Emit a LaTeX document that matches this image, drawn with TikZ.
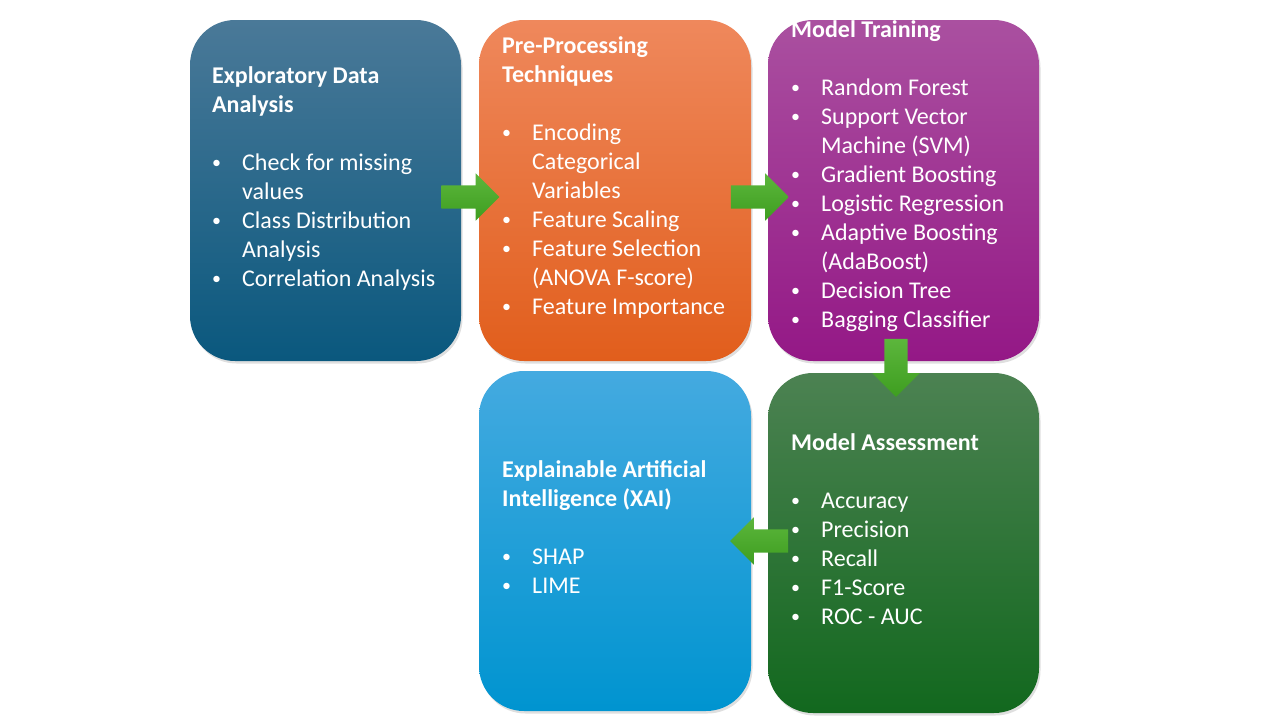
\documentclass[tikz,border=0pt]{standalone}
\usepackage{fontspec}
\setmainfont{Carlito}
\usepackage{xcolor}
\usetikzlibrary{positioning,calc,shapes.arrows,shadows}

\definecolor{edaTop}{RGB}{74,121,152}
\definecolor{edaBot}{RGB}{10,88,126}
\definecolor{prepTop}{RGB}{239,136,92}
\definecolor{prepBot}{RGB}{225,94,28}
\definecolor{trainTop}{RGB}{170,80,160}
\definecolor{trainBot}{RGB}{148,24,134}
\definecolor{assessTop}{RGB}{76,130,82}
\definecolor{assessBot}{RGB}{18,104,30}
\definecolor{xaiTop}{RGB}{68,170,224}
\definecolor{xaiBot}{RGB}{0,148,208}
\definecolor{flowTop}{RGB}{92,182,60}
\definecolor{flowBot}{RGB}{62,158,32}

\newcommand{\bul}{\makebox[30pt][l]{\raisebox{1.5pt}{\fontsize{18}{18}\selectfont\textbullet}}}
\newcommand{\ind}{\hspace*{30pt}}

\begin{document}
\begin{tikzpicture}[x=1pt, y=-1pt,
    stage/.style={rounded corners=45pt, minimum width=271pt, minimum height=341pt, inner sep=0pt,
        drop shadow={shadow xshift=1.5pt, shadow yshift=-2.5pt, opacity=0.25}},
    stagetext/.style={anchor=base west, align=left, inner sep=0pt, text=white,
        font=\fontsize{24}{29}\selectfont},
    flow/.style={single arrow, single arrow head extend=12pt, single arrow tip angle=90,
        minimum height=58pt, inner xsep=0pt, inner ysep=11.5pt, top color=flowTop, bottom color=flowBot}]
    \useasboundingbox (0,0) rectangle (1280,720);

    % Stages
    \node [stage, top color=edaTop, bottom color=edaBot] (eda) at (325.5,190.5) {};
    \node [stage, minimum width=272pt, top color=prepTop, bottom color=prepBot] (prep) at (615,190.5) {};
    \node [stage, top color=trainTop, bottom color=trainBot] (train) at (903.5,190.5) {};
    \node [stage, minimum height=340pt, top color=assessTop, bottom color=assessBot] (assess) at (903.5,543) {};
    \node [stage, minimum width=272pt, minimum height=340pt, top color=xaiTop, bottom color=xaiBot] (xai) at (615,541) {};

    % Arrows
    \node [flow] (flow1) at ($(eda.east)!0.5!(prep.west) + (-5.5,6.5)$) {};
    \node [flow] (flow2) at ($(prep.east)!0.5!(train.west) + (-5.5,6.5)$) {};
    \node [flow, rotate=-90] (flow3) at ($(train.south)!0.5!(assess.north) + (-7.5,-5)$) {};
    \node [flow, rotate=180] (flow4) at ($(assess.west)!0.5!(xai.east) + (5.5,-1)$) {};

    % Texts (placed at the baseline of their last line)
    \node [stagetext] (edatext) at (212,286) {\textbf{Exploratory Data}\\\textbf{Analysis}\\[29pt]
        \bul Check for missing\\ \ind values\\ \bul Class Distribution\\ \ind Analysis\\
        \bul Correlation Analysis};
    \node [stagetext] (preptext) at (502,314) {\textbf{Pre-Processing}\\\textbf{Techniques}\\[29pt]
        \bul Encoding\\ \ind Categorical\\ \ind Variables\\ \bul Feature Scaling\\
        \bul Feature Selection\\ \ind (ANOVA F-score)\\ \bul Feature Importance};
    \node [stagetext] (traintext) at (791,327) {\textbf{Model Training}\\[29pt]
        \bul Random Forest\\ \bul Support Vector\\ \ind Machine (SVM)\\ \bul Gradient Boosting\\
        \bul Logistic Regression\\ \bul Adaptive Boosting\\ \ind (AdaBoost)\\ \bul Decision Tree\\
        \bul Bagging Classifier};
    \node [stagetext] (assesstext) at (791,624) {\textbf{Model Assessment}\\[29pt]
        \bul Accuracy\\ \bul Precision\\ \bul Recall\\ \bul F1-Score\\ \bul ROC - AUC};
    \node [stagetext] (xaitext) at (502,593) {\textbf{Explainable Artificial}\\\textbf{Intelligence (XAI)}\\[29pt]
        \bul SHAP\\ \bul LIME};
\end{tikzpicture}
\end{document}
